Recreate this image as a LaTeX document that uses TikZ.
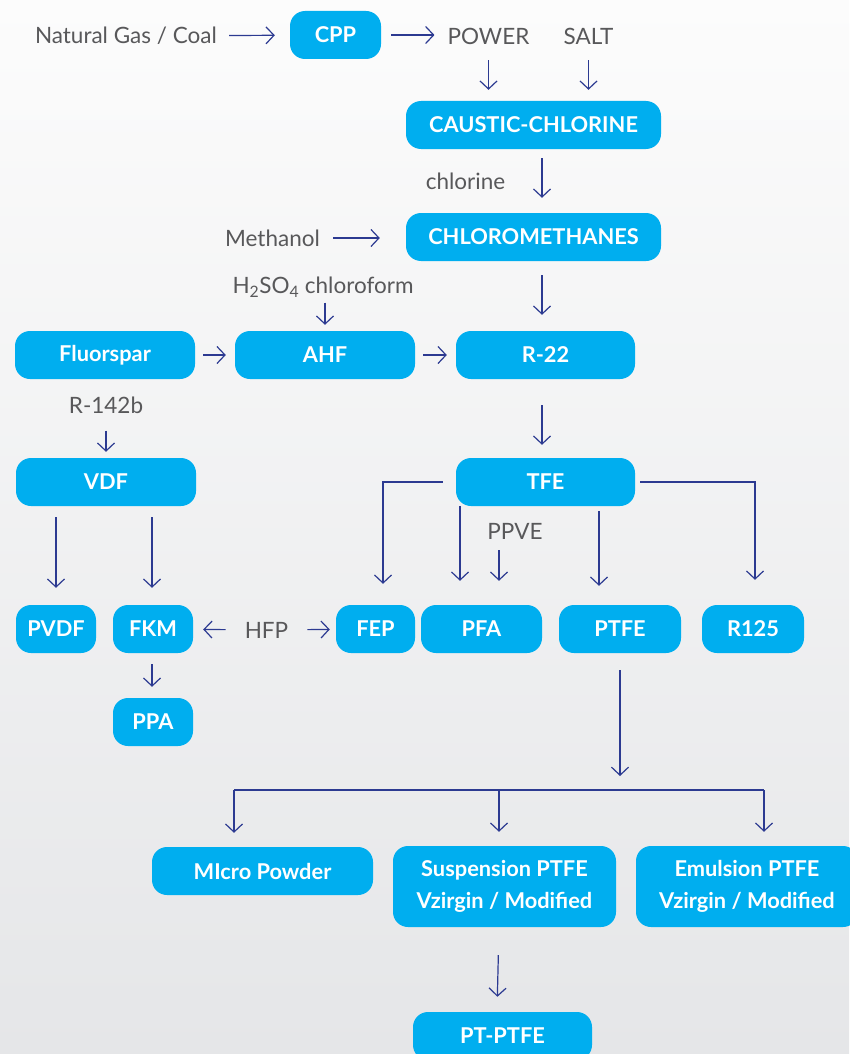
\documentclass[tikz,border=0pt]{standalone}
\usepackage{fontspec}
\setmainfont{Lato}
\usetikzlibrary{arrows.meta, positioning}
\definecolor{boxcolor}{RGB}{0,174,239}
\definecolor{flowcolor}{RGB}{44,58,145}
\definecolor{labelcolor}{RGB}{88,88,90}
\definecolor{bgtop}{RGB}{252,252,252}
\definecolor{bgbottom}{RGB}{229,230,232}

\tikzset{
  box/.style={fill=boxcolor, text=white, rounded corners=15pt, minimum height=48pt,
    inner sep=0pt, align=center, font=\fontsize{21.8}{32}\selectfont\bfseries},
  lbl/.style={text=labelcolor, inner sep=0pt, font=\fontsize{22.5}{26}\selectfont},
  flow/.style={draw=flowcolor, line width=1.2pt, -{Straight Barb[length=8pt, width=17pt]}},
  branch/.style={draw=flowcolor, line width=1.2pt},
}

\begin{document}
\begin{tikzpicture}[x=1pt, y=-1pt]

% Background
\shade[top color=bgtop, bottom color=bgbottom] (0,0) rectangle (849,1054);
\useasboundingbox (0,0) rectangle (849,1054);

% Top row
\node[lbl, anchor=east] (gas) at (217,36) {Natural Gas / Coal};
\node[box, minimum width=91pt] (cpp) at (335.5,35) {CPP};
\node[lbl] (power) at (488.5,36) {POWER};
\node[lbl] (salt) at (588.5,36) {SALT};

\draw[flow, shorten <=12pt, shorten >=15pt] (gas) -- (cpp);
\draw[flow, shorten <=10pt, shorten >=13pt] (cpp) -- (cpp -| power.west);

% Caustic-chlorine and chloromethanes
\node[box, minimum width=255pt] (caustic) at (533.5,125) {CAUSTIC-CHLORINE};
\node[box, minimum width=255pt] (chloro) at (533.5,237) {CHLOROMETHANES};
\node[lbl] (chlorine) at (465.5,181) {chlorine};
\node[lbl] (methanol) at (272.5,238) {Methanol};

\draw[flow, shorten <=16pt, shorten >=11pt] (power.south) -- (power.south |- caustic.north);
\draw[flow, shorten <=16pt, shorten >=11pt] (salt.south) -- (salt.south |- caustic.north);
\draw[flow, shorten <=9pt, shorten >=15pt] ([xshift=8.5pt]caustic.south) -- ([xshift=8.5pt]chloro.north);
\draw[flow, shorten <=13pt, shorten >=26pt] (methanol) -- (methanol -| chloro.west);

% HF row
\node[lbl] (acid) at (323,287) {H\textsubscript{2}SO\textsubscript{4} chloroform};
\node[box, minimum width=180pt] (fluor) at (105,355) {Fluorspar};
\node[box, minimum width=180pt] (ahf) at (325,355) {AHF};
\node[box, minimum width=179pt] (r22) at (545.5,355) {R-22};

\draw[flow, shorten <=5pt, shorten >=6pt] (acid.south -| ahf) -- (ahf.north);
\draw[flow, shorten <=14pt, shorten >=16pt] ([xshift=8.5pt]chloro.south) -- ([xshift=8.5pt]chloro.south |- r22.north);
\draw[flow, shorten <=8pt, shorten >=9pt] (fluor) -- (ahf);
\draw[flow, shorten <=8pt, shorten >=9pt] (ahf) -- (r22);

% VDF and TFE
\node[lbl] (r142b) at (106,405) {R-142b};
\node[box, minimum width=180pt] (vdf) at (106,482) {VDF};
\node[box, minimum width=179pt] (tfe) at (545.5,482) {TFE};

\draw[flow, shorten <=17pt, shorten >=6pt] (r142b) -- (vdf);
\draw[flow, shorten <=26pt, shorten >=13pt] ([xshift=-3.5pt]r22.south) -- ([xshift=-3.5pt]tfe.north);

% Polymer row
\node[box, minimum width=80pt] (pvdf) at (56,629) {PVDF};
\node[box, minimum width=80pt] (fkm) at (153,629) {FKM};
\node[lbl] (hfp) at (266.5,630) {HFP};
\node[box, minimum width=79pt] (fep) at (375.5,629) {FEP};
\node[box, minimum width=121pt] (pfa) at (481.5,629) {PFA};
\node[box, minimum width=122pt] (ptfe) at (620,629) {PTFE};
\node[box, minimum width=102pt] (r125) at (753,629) {R125};
\node[lbl] (ppve) at (515,531) {PPVE};
\node[box, minimum width=80pt] (ppa) at (153,722) {PPA};

\draw[flow, shorten <=11pt, shorten >=17pt] (pvdf |- vdf.south) -- (pvdf);
\draw[flow, shorten <=11pt, shorten >=17pt] ([xshift=-1pt]fkm.north |- vdf.south) -- ([xshift=-1pt]fkm.north);
\draw[flow, shorten >=21pt] ([xshift=-13pt]tfe.west) -| ([xshift=7.5pt]fep.north);
\draw[flow, shorten >=24pt] ([xshift=-21.5pt]pfa.north |- tfe.south) -- ([xshift=-21.5pt]pfa.north);
\draw[flow, shorten <=11pt, shorten >=24pt] ([xshift=17.5pt]pfa.north |- ppve.south) -- ([xshift=17.5pt]pfa.north);
\draw[flow, shorten <=5pt, shorten >=19pt] ([xshift=-21pt]ptfe.north |- tfe.south) -- ([xshift=-21pt]ptfe.north);
\draw[flow, shorten >=25pt] ([xshift=5pt]tfe.east) -| ([xshift=2pt]r125.north);
\draw[flow, shorten <=19pt, shorten >=10pt] (hfp) -- (fkm);
\draw[flow, shorten <=19pt, shorten >=6pt] (hfp) -- (fep);
\draw[flow, shorten <=11pt, shorten >=11pt] ([xshift=-1pt]fkm.south) -- ([xshift=-1pt]ppa.north);

% PTFE grades
\node[box, minimum width=221pt] (micro) at (262.5,871) {MIcro Powder};
\node[box, minimum width=223pt, minimum height=81pt] (susp) at (504.5,886.5) {\strut Suspension PTFE\\\strut Vzirgin / Modified};
\node[box, minimum width=222pt, minimum height=81pt] (emul) at (747,886.5) {\strut Emulsion PTFE\\\strut Vzirgin / Modified};
\node[box, minimum width=179pt] (ptptfe) at (502.5,1036) {PT-PTFE};
\coordinate (split) at (620,790);

\draw[flow, shorten <=17pt, shorten >=14pt] (ptfe.south) -- (split);
\draw[branch] ([xshift=-28.5pt]micro.north |- split) -- ([xshift=17pt]emul.north |- split);
\draw[flow, shorten >=14pt] ([xshift=-28.5pt]micro.north |- split) -- ([xshift=-28.5pt]micro.north);
\draw[flow, shorten >=14pt] ([xshift=-5.5pt]susp.north |- split) -- ([xshift=-5.5pt]susp.north);
\draw[flow, shorten >=14pt] ([xshift=17pt]emul.north |- split) -- ([xshift=17pt]emul.north);
\draw[flow, shorten <=28pt, shorten >=15pt] ([xshift=-5.5pt]susp.south) -- ([xshift=-5.5pt]ptptfe.north);

\end{tikzpicture}
\end{document}
